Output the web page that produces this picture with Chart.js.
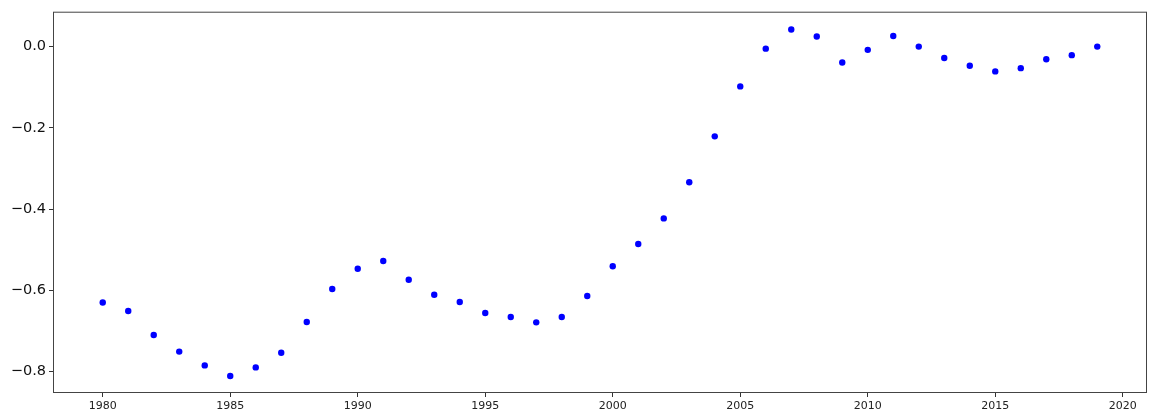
<!DOCTYPE html>
<html>
<head>
<meta charset="utf-8">
<script src="https://cdn.jsdelivr.net/npm/chart.js@4"></script>
<style>
  html, body { margin: 0; padding: 0; background: #fff; }
  #wrap { width: 1152px; height: 420px; }
</style>
</head>
<body>
<div id="wrap"><canvas id="scatterChart" width="1152" height="420"></canvas></div>
<script>
// years on the x axis
const years = [
  1980, 1981, 1982, 1983, 1984, 1985, 1986, 1987, 1988, 1989,
  1990, 1991, 1992, 1993, 1994, 1995, 1996, 1997, 1998, 1999,
  2000, 2001, 2002, 2003, 2004, 2005, 2006, 2007, 2008, 2009,
  2010, 2011, 2012, 2013, 2014, 2015, 2016, 2017, 2018, 2019
];

// values
const values = [
  -0.630, -0.651, -0.710, -0.751, -0.785, -0.811, -0.790, -0.754, -0.678, -0.597,
  -0.547, -0.528, -0.574, -0.611, -0.629, -0.656, -0.666, -0.679, -0.666, -0.614,
  -0.541, -0.486, -0.423, -0.334, -0.221, -0.098, -0.005, 0.042, 0.025, -0.039,
  -0.008, 0.026, 0.000, -0.028, -0.047, -0.061, -0.053, -0.031, -0.021, 0.000
];

// tick positions
const xTicks = [1980, 1985, 1990, 1995, 2000, 2005, 2010, 2015, 2020];
const yTicks = [-0.8, -0.6, -0.4, -0.2, 0.0];

// draw the box round the plot area
const frame = {
  id: "frame",
  beforeDatasetsDraw(chart) {
    const a = chart.chartArea;
    const ctx = chart.ctx;
    ctx.save();
    ctx.strokeStyle = "#444";
    ctx.lineWidth = 1;
    ctx.strokeRect(a.left + 0.5, a.top + 0.5, a.right - a.left - 1, a.bottom - a.top - 1);
    ctx.restore();
  }
};

const ctx = document.getElementById("scatterChart").getContext("2d");
new Chart(ctx, {
  type: "scatter",
  data: {
    datasets: [{
      data: years.map((y, i) => ({ x: y, y: values[i] })),
      backgroundColor: "#0000ff",
      borderWidth: 0,
      pointRadius: 3.2,
      pointHoverRadius: 3.2
    }]
  },
  options: {
    responsive: false,
    animation: false,
    layout: { padding: { top: 11, right: 5, left: 0, bottom: 0 } },
    plugins: {
      legend: { display: false },
      tooltip: { enabled: false }
    },
    scales: {
      x: {
        type: "linear",
        min: 1978.05,
        max: 2020.95,
        afterBuildTicks: axis => { axis.ticks = xTicks.map(v => ({ value: v })); },
        afterFit: scale => { scale.height = 27; },
        grid: { display: true, drawOnChartArea: false, drawTicks: true, tickLength: 4, tickColor: "#333" },
        border: { display: false },
        ticks: {
          color: "#222",
          padding: 3,
          maxRotation: 0,
          font: { family: "DejaVu Sans", size: 11 },
          callback: v => String(v)
        }
      },
      y: {
        min: -0.853,
        max: 0.086,
        afterBuildTicks: axis => { axis.ticks = yTicks.map(v => ({ value: v })); },
        afterFit: scale => { scale.width = 53; },
        grid: { display: true, drawOnChartArea: false, drawTicks: true, tickLength: 4, tickColor: "#333" },
        border: { display: false },
        ticks: {
          color: "#111",
          padding: 3,
          font: { family: "DejaVu Sans", size: 14.5 },
          callback: v => (v < 0 ? "\u2212" + Math.abs(v).toFixed(1) : Math.abs(v).toFixed(1))
        }
      }
    }
  },
  plugins: [frame]
});
</script>
</body>
</html>
